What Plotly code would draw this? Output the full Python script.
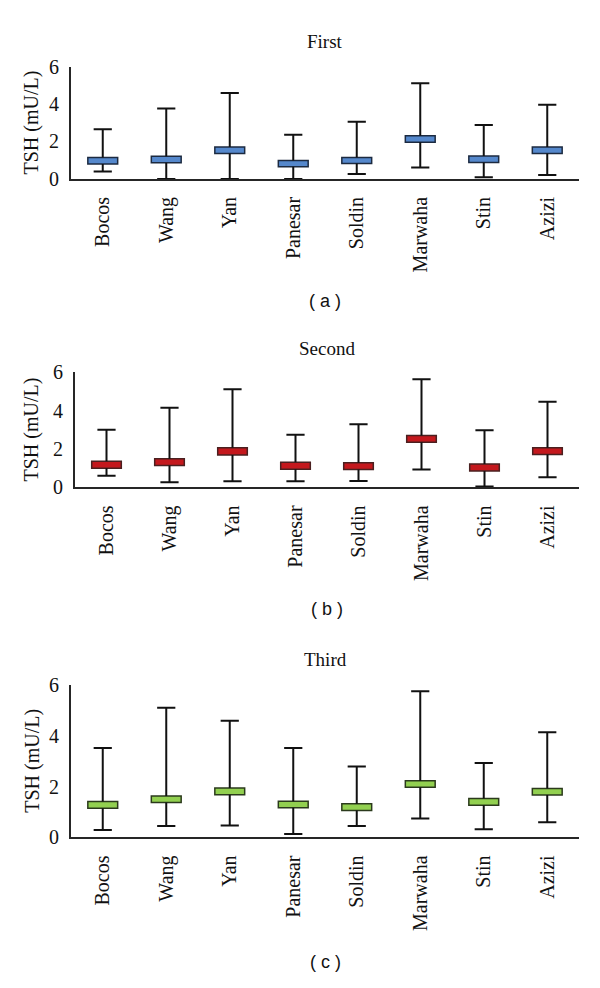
import plotly.graph_objects as go

categories = ["Bocos", "Wang", "Yan", "Panesar", "Soldin", "Marwaha", "Stin", "Azizi"]
y_ticks = [0, 2, 4, 6]

# Panel (a) First
first_low = [0.40, 0.00, 0.00, 0.00, 0.26, 0.61, 0.09, 0.21]
first_box_low = [0.79, 0.86, 1.36, 0.65, 0.82, 1.96, 0.87, 1.36]
first_box_high = [1.14, 1.21, 1.70, 0.98, 1.15, 2.31, 1.22, 1.70]
first_high = [2.65, 3.76, 4.60, 2.36, 3.06, 5.12, 2.88, 3.96]

# Panel (b) Second
second_low = [0.61, 0.27, 0.32, 0.32, 0.34, 0.93, 0.05, 0.53]
second_box_low = [1.00, 1.14, 1.69, 0.95, 0.93, 2.36, 0.86, 1.71]
second_box_high = [1.36, 1.49, 2.07, 1.31, 1.29, 2.71, 1.22, 2.07]
second_high = [3.00, 4.15, 5.12, 2.75, 3.29, 5.63, 2.98, 4.46]

# Panel (c) Third
third_low = [0.29, 0.45, 0.47, 0.14, 0.45, 0.75, 0.32, 0.60]
third_box_low = [1.15, 1.37, 1.68, 1.17, 1.06, 1.97, 1.27, 1.67]
third_box_high = [1.41, 1.63, 1.94, 1.42, 1.32, 2.23, 1.53, 1.92]
third_high = [3.51, 5.09, 4.58, 3.51, 2.79, 5.74, 2.92, 4.13]

panels = [
    dict(name="First", tag="( a )", low=first_low, blo=first_box_low, bhi=first_box_high, high=first_high,
         fill="#5588cc", edge="#1c2a40", xdom=[71/600, 579/600], ypx=(171.7, 57.0), title_y=31, tag_y=297),
    dict(name="Second", tag="( b )", low=second_low, blo=second_box_low, bhi=second_box_high, high=second_high,
         fill="#c4181d", edge="#4a2020", xdom=[75/600, 579/600], ypx=(487.3, 369.5), title_y=345, tag_y=612),
    dict(name="Third", tag="( c )", low=third_low, blo=third_box_low, bhi=third_box_high, high=third_high,
         fill="#92d050", edge="#2b3a1c", xdom=[71/600, 579/600], ypx=(845.3, 689.0), title_y=663, tag_y=973),
]

H = 988.0
W = 600.0
fig = go.Figure()
annotations = []
layout_axes = {}
serif = "Liberation Serif, Times New Roman, serif"
line_col = "#262626"

for i, p in enumerate(panels):
    n = "" if i == 0 else str(i + 1)
    xa, ya = "x" + n, "y" + n
    # whisker segments (lower and upper), drawn so the box covers its range
    wx, wy = [], []
    for c, lo, blo, bhi, hi in zip(categories, p["low"], p["blo"], p["bhi"], p["high"]):
        wx += [c, c, None, c, c, None]
        wy += [lo, blo, None, bhi, hi, None]
    fig.add_trace(go.Scatter(x=wx, y=wy, mode="lines", line=dict(color="#111111", width=2),
                             xaxis=xa, yaxis=ya, showlegend=False, hoverinfo="skip"))
    # caps
    fig.add_trace(go.Scatter(x=categories + categories, y=p["low"] + p["high"], mode="markers",
                             marker=dict(symbol="line-ew", size=13, line=dict(color="#111111", width=2)),
                             xaxis=xa, yaxis=ya, showlegend=False, hoverinfo="skip"))
    # boxes
    fig.add_trace(go.Bar(x=categories, y=[h - l for h, l in zip(p["bhi"], p["blo"])], base=p["blo"],
                         width=0.47, marker=dict(color=p["fill"], line=dict(color=p["edge"], width=1.5)),
                         xaxis=xa, yaxis=ya, showlegend=False))
    y0, y1 = p["ypx"]
    ydom = [1 - y0 / H, 1 - y1 / H]
    layout_axes["xaxis" + n] = dict(domain=p["xdom"], anchor=ya, type="category",
                                    showline=True, linecolor=line_col, linewidth=2,
                                    showgrid=False, zeroline=False, ticks="", tickangle=-90,
                                    ticklabelstandoff=8,
                                    tickfont=dict(family=serif, size=20, color="#111111"),
                                    range=[-0.5, 7.5], fixedrange=True)
    layout_axes["yaxis" + n] = dict(domain=ydom, anchor=xa, range=[0, 6],
                                    tickvals=y_ticks, ticktext=[str(v) for v in y_ticks],
                                    showline=True, linecolor=line_col, linewidth=2,
                                    showgrid=False, zeroline=False, ticks="",
                                    ticklabelstandoff=6,
                                    tickfont=dict(family=serif, size=20, color="#111111"),
                                    fixedrange=True)
    xc = (p["xdom"][0] + p["xdom"][1]) / 2
    annotations.append(dict(text=p["name"], x=xc, y=1 - p["title_y"] / H, xref="paper", yref="paper",
                            showarrow=False, xanchor="center", yanchor="middle",
                            font=dict(family=serif, size=19, color="#111111")))
    annotations.append(dict(text=p["tag"], x=xc, y=1 - p["tag_y"] / H, xref="paper", yref="paper",
                            showarrow=False, xanchor="center", yanchor="middle",
                            font=dict(family="Liberation Sans, Arial, sans-serif", size=18, color="#111111")))
    annotations.append(dict(text="TSH (mU/L)", x=31.7 / W, y=1 - (y0 + y1) / 2 / H, xref="paper", yref="paper",
                            showarrow=False, xanchor="center", yanchor="middle", textangle=-90,
                            font=dict(family=serif, size=20, color="#111111")))

fig.update_layout(width=600, height=988, margin=dict(l=0, r=0, t=0, b=0),
                  paper_bgcolor="white", plot_bgcolor="white", bargap=0.53,
                  annotations=annotations, **layout_axes)

fig.write_html("out.html", config={"displayModeBar": False},
               post_script="document.body.style.margin='0';document.body.style.overflow='hidden';")
